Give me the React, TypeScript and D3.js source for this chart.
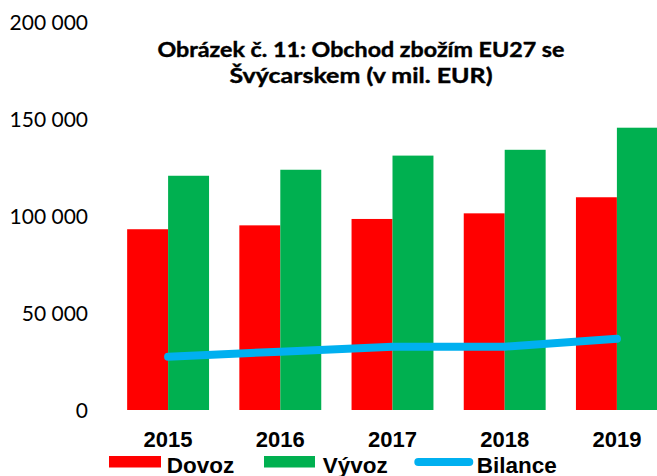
import React from "react";
import * as d3 from "d3";

const years = ["2015", "2016", "2017", "2018", "2019"];
const dovoz = [93300, 95300, 98600, 101500, 109800];
const vyvoz = [120900, 124000, 131300, 134300, 145700];
const bilance = [27500, 30100, 32700, 32700, 36800];
const yTicks = [0, 50000, 100000, 150000, 200000];
const seriesNames = ["Dovoz", "Vývoz"];
const titleLines = ["Obrázek č. 11: Obchod zbožím EU27 se", "Švýcarskem (v mil. EUR)"];

const W = 657;
const H = 476;
const RED = "#FF0000";
const GREEN = "#00B050";
const BLUE = "#00B0F0";

const fmt = (v: number) => d3.format(",")(v).replace(/,/g, " ");

export default function App() {
  const x0 = d3.scaleBand<string>().domain(years).range([112, 673]).paddingInner(0.27).paddingOuter(0.135);
  const x1 = d3.scaleBand<string>().domain(seriesNames).range([0, x0.bandwidth()]);
  const y = d3.scaleLinear().domain([0, 200000]).range([410, 22.5]);

  const seriesVals = [dovoz, vyvoz];
  const colors = [RED, GREEN];

  const line = d3
    .line<number>()
    .x((_, i) => (x0(years[i]) as number) + x0.bandwidth() / 2)
    .y((d) => y(d));

  const legendFont = "'Liberation Sans', Arial, sans-serif";
  const titleWidths = [407, 263];

  return (
    <svg
      width={W}
      height={H}
      style={{ position: "absolute", left: 0, top: 0, display: "block" }}
      overflow="hidden"
    >
      <rect x={0} y={0} width={W} height={H} fill="#fff" />
      {/* Y tick labels */}
      {yTicks.map((t) => (
        <text
          key={t}
          x={88}
          y={y(t)}
          dy="0.36em"
          textAnchor="end"
          fontFamily="Lato, 'Noto Sans', sans-serif"
          fontSize={21}
          fill="#000"
        >
          {fmt(t)}
        </text>
      ))}
      {/* Bars */}
      {years.map((yr, i) => (
        <g key={yr} transform={`translate(${x0(yr)},0)`}>
          {seriesNames.map((s, k) => (
            <rect
              key={s}
              x={x1(s)}
              y={y(seriesVals[k][i])}
              width={x1.bandwidth()}
              height={y(0) - y(seriesVals[k][i])}
              fill={colors[k]}
            />
          ))}
        </g>
      ))}
      {/* Bilance line */}
      <path
        d={line(bilance) || ""}
        fill="none"
        stroke={BLUE}
        strokeWidth={8}
        strokeLinecap="round"
        strokeLinejoin="round"
      />
      {/* X labels */}
      {years.map((yr) => (
        <text
          key={yr}
          x={(x0(yr) as number) + x0.bandwidth() / 2}
          y={447.3}
          textAnchor="middle"
          fontFamily={legendFont}
          fontWeight="bold"
          fontSize={22}
          fill="#000"
        >
          {yr}
        </text>
      ))}
      {/* Title */}
      {titleLines.map((t, i) => (
        <text
          key={i}
          x={361}
          y={56.5 + i * 26}
          textAnchor="middle"
          fontFamily="Lato, 'Noto Sans', sans-serif"
          fontWeight="bold"
          fontSize={20}
          textLength={titleWidths[i]}
          lengthAdjust="spacingAndGlyphs"
          stroke="#000"
          strokeWidth={0.4}
          fill="#000"
        >
          {t}
        </text>
      ))}
      {/* Legend */}
      <rect x={109} y={456} width={52} height={11.5} fill={RED} />
      <text x={166.7} y={472.5} fontFamily={legendFont} fontWeight="bold" fontSize={22.5} fill="#000">
        Dovoz
      </text>
      <rect x={264} y={456} width={51} height={11.5} fill={GREEN} />
      <text x={322.7} y={472.5} fontFamily={legendFont} fontWeight="bold" fontSize={22.5} fill="#000">
        Vývoz
      </text>
      <line x1={418.3} y1={462} x2={469.3} y2={462} stroke={BLUE} strokeWidth={8} strokeLinecap="round" />
      <text x={476.7} y={472.5} fontFamily={legendFont} fontWeight="bold" fontSize={22.5} fill="#000">
        Bilance
      </text>
    </svg>
  );
}
